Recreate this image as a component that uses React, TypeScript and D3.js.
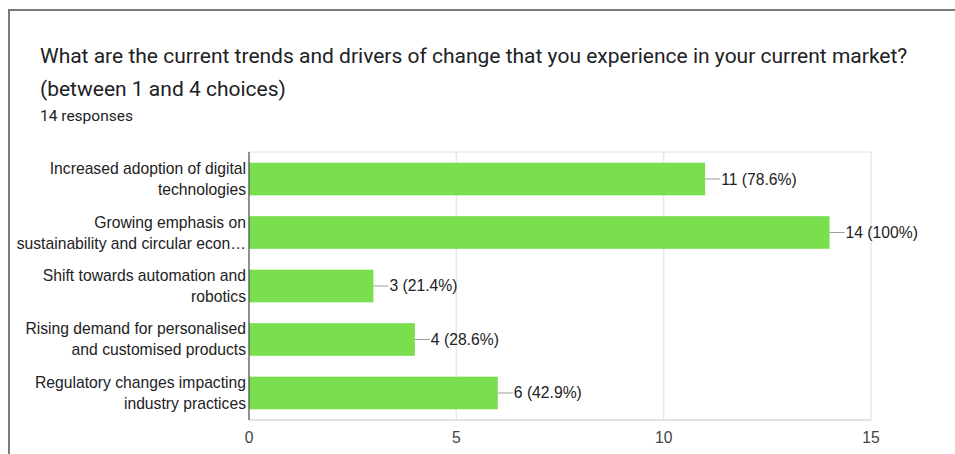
import React from "react";
import * as d3 from "d3";

const categories = [
  ["Increased adoption of digital", "technologies"],
  ["Growing emphasis on", "sustainability and circular econ…"],
  ["Shift towards automation and", "robotics"],
  ["Rising demand for personalised", "and customised products"],
  ["Regulatory changes impacting", "industry practices"],
];
const counts = [11, 14, 3, 4, 6];
const percents = ["78.6%", "100%", "21.4%", "28.6%", "42.9%"];
const ticks = [0, 5, 10, 15];

const W = 955;
const H = 454;
const margin = { top: 152, right: 84, bottom: 34, left: 249 };
const labelFont = "Liberation Sans, Arial";

export default function App() {
  const x = d3
    .scaleLinear()
    .domain([0, 15])
    .range([margin.left, W - margin.right]);

  const y = d3
    .scaleBand()
    .domain(categories.map((_, i) => String(i)))
    .range([margin.top, H - margin.bottom])
    .paddingInner(0.39)
    .paddingOuter(0.2);

  const bottom = H - margin.bottom;

  return (
    <div style={{ position: "absolute", left: 0, top: 0 }}>
      <svg width={W} height={H} style={{ display: "block", background: "#fff" }}>
        {/* card frame */}
        <rect x={9} y={10} width={W + 20} height={H + 20} fill="none" stroke="#7a7a7a" strokeWidth={2} />

        <text x={40} y={63} fontFamily="Roboto" fontSize={21} fill="#202124">
          What are the current trends and drivers of change that you experience in your current market?
        </text>
        <text x={40} y={96} fontFamily="Roboto" fontSize={21} fill="#202124">
          (between 1 and 4 choices)
        </text>
        <text x={40} y={121} fontFamily="Roboto" fontSize={15.5} fill="#202124">
          14 responses
        </text>

        {/* grid */}
        {ticks.map((t) => (
          <line key={t} x1={x(t)} x2={x(t)} y1={margin.top} y2={bottom} stroke="#e8e8e8" strokeWidth={1.5} />
        ))}
        <line x1={margin.left} x2={x(15)} y1={margin.top} y2={margin.top} stroke="#e8e8e8" strokeWidth={1.5} />
        <line x1={margin.left} x2={x(15)} y1={bottom} y2={bottom} stroke="#e3e3e3" strokeWidth={2} />

        {/* bars */}
        {counts.map((c, i) => {
          const by = y(String(i))!;
          const cy = by + y.bandwidth() / 2;
          return (
            <g key={i}>
              <rect x={x(0)} y={by} width={x(c) - x(0)} height={y.bandwidth()} fill="#7adf4e" />
              <line x1={x(c)} x2={x(c) + 15} y1={cy} y2={cy} stroke="#9e9e9e" strokeWidth={1} />
              <text x={x(c) + 16} y={cy} dy="0.35em" fontFamily={labelFont} fontSize={15.7} fill="#222">
                {`${c} (${percents[i]})`}
              </text>
              {categories[i].map((line, j) => (
                <text
                  key={j}
                  x={margin.left - 3}
                  y={cy + (j === 0 ? -10.5 : 10.5)}
                  dy="0.35em"
                  textAnchor="end"
                  fontFamily={labelFont}
                  fontSize={15.7}
                  fill="#222"
                >
                  {line}
                </text>
              ))}
            </g>
          );
        })}

        {/* left axis line */}
        <line x1={margin.left} x2={margin.left} y1={margin.top} y2={bottom} stroke="#333" strokeWidth={1} />

        {/* tick labels */}
        {ticks.map((t) => (
          <text
            key={t}
            x={x(t)}
            y={438}
            dy="0.35em"
            textAnchor="middle"
            fontFamily={labelFont}
            fontSize={15.7}
            fill="#444"
          >
            {t}
          </text>
        ))}
      </svg>
    </div>
  );
}
